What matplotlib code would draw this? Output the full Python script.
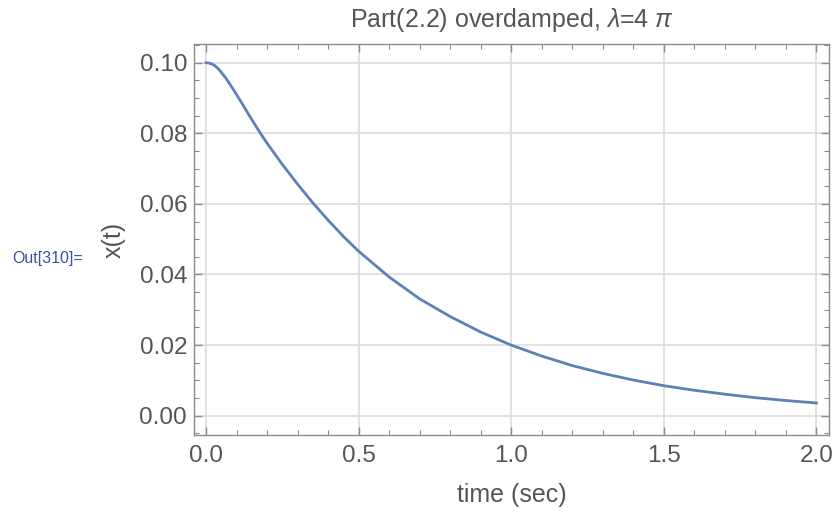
import matplotlib
matplotlib.use("Agg")
import matplotlib.pyplot as plt
from matplotlib.ticker import MultipleLocator

# Values
t_values = [0.00, 0.01, 0.02, 0.03, 0.04, 0.05, 0.06, 0.07, 0.08, 0.10, 0.12,
            0.14, 0.16, 0.18, 0.20, 0.25, 0.30, 0.35, 0.40, 0.45, 0.50,
            0.60, 0.70, 0.80, 0.90, 1.00, 1.10, 1.20, 1.30, 1.40, 1.50,
            1.60, 1.70, 1.80, 1.90, 2.00]
x_values = [0.1000, 0.0999, 0.0996, 0.0991, 0.0983, 0.0973, 0.0962, 0.0950, 0.0937,
            0.0910, 0.0882, 0.0853, 0.0825, 0.0798, 0.0772, 0.0712, 0.0656,
            0.0603, 0.0554, 0.0508, 0.0466, 0.0393, 0.0331, 0.0281, 0.0237,
            0.0200, 0.0169, 0.0142, 0.0120, 0.0101, 0.0085, 0.0072, 0.0061,
            0.0051, 0.0043, 0.0036]

x_ticks = [0.0, 0.5, 1.0, 1.5, 2.0]
x_tick_labels = ["0.0", "0.5", "1.0", "1.5", "2.0"]
y_ticks = [0.00, 0.02, 0.04, 0.06, 0.08, 0.10]
y_tick_labels = ["0.00", "0.02", "0.04", "0.06", "0.08", "0.10"]

title_text = "Part(2.2) overdamped, $\\lambda$=4 $\\pi$"
x_label = "time (sec)"
y_label = "x(t)"
out_label = "Out[310]="

plt.rcParams['font.family'] = ['Liberation Sans', 'DejaVu Sans']
plt.rcParams['mathtext.fontset'] = 'custom'
plt.rcParams['mathtext.it'] = 'Liberation Sans:italic'
plt.rcParams['mathtext.rm'] = 'Liberation Sans'

fig = plt.figure(figsize=(8.37, 5.14), dpi=100)
ax = fig.add_axes([194/837, 1-435/514, (829-194)/837, (435-44)/514])

ax.plot(t_values, x_values, color="#5e81b5", lw=2.0, solid_joinstyle='round')

ax.set_xlim(-0.0393, 2.0413)
ax.set_ylim(-0.00547, 0.1053)

ax.set_xticks(x_ticks)
ax.set_xticklabels(x_tick_labels)
ax.set_yticks(y_ticks)
ax.set_yticklabels(y_tick_labels)
ax.xaxis.set_minor_locator(MultipleLocator(0.1))
ax.yaxis.set_minor_locator(MultipleLocator(0.005))

gray = "#8c8c8c"
ax.grid(True, which='major', color="#dcdcdc", lw=1.2)
ax.set_axisbelow(True)
for s in ax.spines.values():
    s.set_color(gray)
    s.set_linewidth(1.0)

ax.tick_params(which='both', direction='in', top=True, right=True, color=gray,
               labelcolor="#555555", labelsize=17.5)
ax.tick_params(which='major', length=6, width=1.0)
ax.tick_params(which='minor', length=3.5, width=0.8)
ax.tick_params(axis='x', which='major', pad=7)
ax.tick_params(axis='y', which='major', pad=5)

ax.set_title(title_text, fontsize=18, color="#555555", pad=12)
ax.set_xlabel(x_label, fontsize=18, color="#555555", labelpad=12)
ax.set_ylabel(y_label, fontsize=18, color="#555555", labelpad=10)

fig.text(12/837, 1-259/514, out_label, fontsize=11.5, color="#3f4fa0",
         ha='left', va='center')

fig.savefig("out.png", dpi=100)
